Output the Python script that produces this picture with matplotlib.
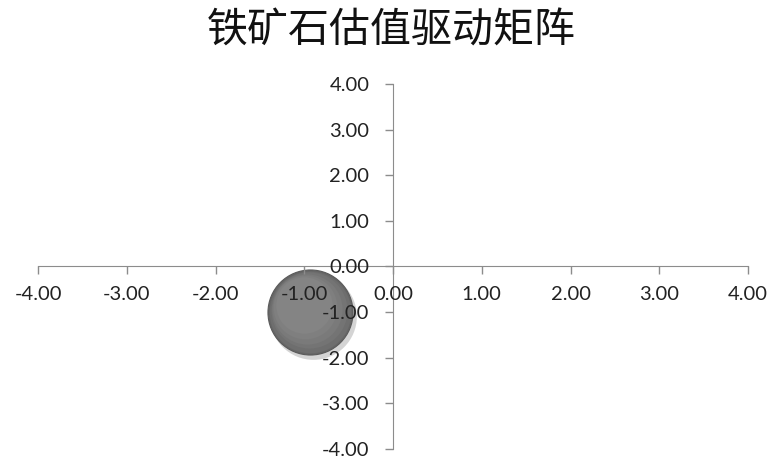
import matplotlib.pyplot as plt
import matplotlib.transforms as mtransforms
import numpy as np

plt.rcParams['font.family'] = ['Lato', 'Noto Sans CJK SC', 'DejaVu Sans']

title = "铁矿石估值驱动矩阵"
x_vals = [-0.93]
y_vals = [-1.0]
bubble_sizes = [1.0]
axis_ticks = [-4, -3, -2, -1, 0, 1, 2, 3, 4]

fig = plt.figure(figsize=(7.68, 4.59), dpi=100)
ax = fig.add_axes([0.0495, 0.0218, 0.9245, 0.7952])
ax.set_axisbelow(False)  # tick labels drawn over the bubble

axis_color = "#8c8c8c"
for side in ["top", "right"]:
    ax.spines[side].set_visible(False)
ax.spines["left"].set_position("zero")
ax.spines["bottom"].set_position("zero")
ax.spines["left"].set_color(axis_color)
ax.spines["bottom"].set_color(axis_color)

ax.set_xlim(-4, 4)
ax.set_ylim(-4, 4)
ax.set_xticks(axis_ticks)
ax.set_yticks(axis_ticks)
ax.set_xticklabels([f"{t:.2f}" for t in axis_ticks])
ax.set_yticklabels([f"{t:.2f}" for t in axis_ticks])
ax.tick_params(axis="x", direction="out", length=6, width=1, color=axis_color,
               pad=8, labelsize=14.5, labelcolor="#222222")
ax.tick_params(axis="y", direction="out", length=6, width=1, color=axis_color,
               pad=11, labelsize=14.5, labelcolor="#222222")

base = 3750
sizes = np.array(bubble_sizes) * base

# shadow
shadow = mtransforms.offset_copy(ax.transData, fig=fig, x=2, y=-3, units="points")
ax.scatter(x_vals, y_vals, s=sizes * 1.04, color="#d4d4d4", transform=shadow,
           zorder=1, linewidths=0)

# bubble with soft shading
ax.scatter(x_vals, y_vals, s=sizes, color="#666666", edgecolors="#5a5a5a",
           linewidths=0.8, zorder=1.2)
shades = ["#6e6e6e", "#747474", "#7a7a7a", "#7f7f7f", "#848484"]
for i, c in enumerate(shades):
    f = 0.92 - i * 0.12
    off = mtransforms.offset_copy(ax.transData, fig=fig, x=-1.2 * i, y=1.2 * i,
                                  units="points")
    ax.scatter(x_vals, y_vals, s=sizes * f, color=c, transform=off,
               zorder=1.3 + i * 0.1, linewidths=0)

fig.text(0.51, 0.932, title, ha="center", va="center", fontsize=29.5,
         family=["Noto Sans CJK SC", "DejaVu Sans"], color="#111111")

fig.savefig("out.png", dpi=100)
